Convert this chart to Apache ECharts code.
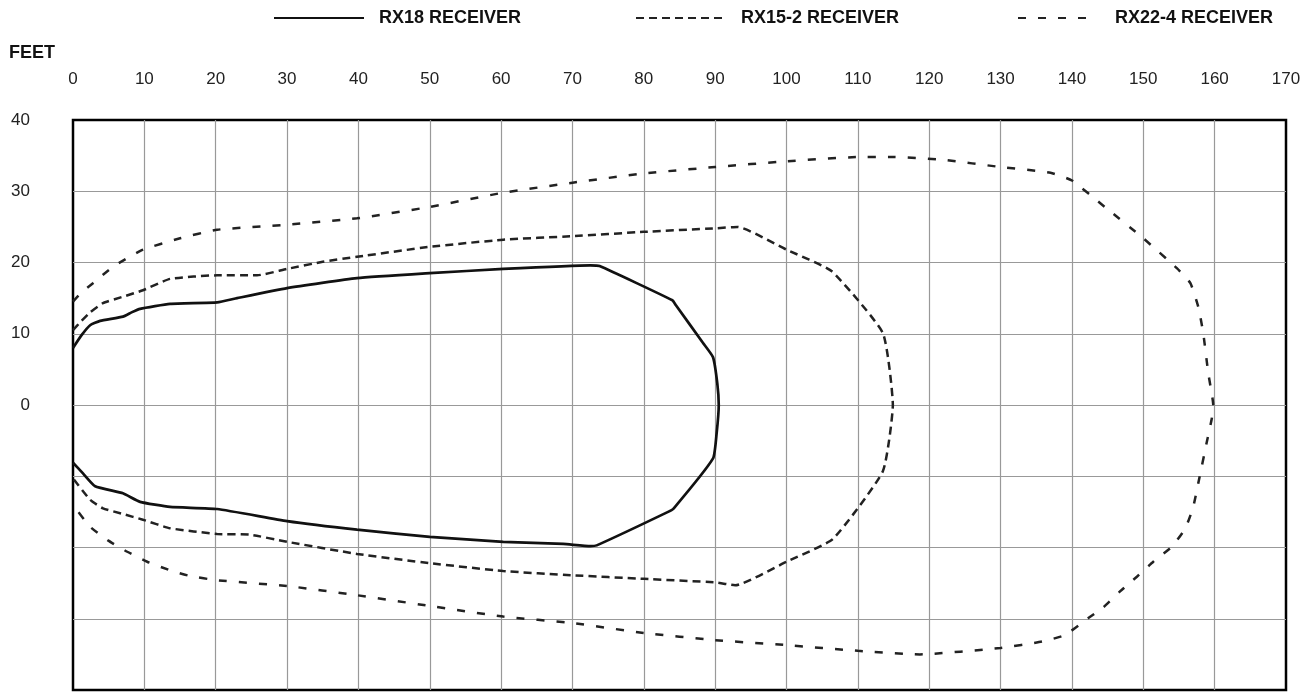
<!DOCTYPE html>
<html>
<head>
<meta charset="utf-8">
<title>Receiver range</title>
<script src="https://cdn.jsdelivr.net/npm/echarts@6/dist/echarts.min.js"></script>
<style>
    html, body { margin: 0; padding: 0; background: #fff; }
    #main { width: 1315px; height: 692px; }
</style>
</head>
<body>
<div id="main"></div>
<script>
// feet, x = distance ahead, y = to the side
var rx18X = [0, 1.2, 2.4, 3.8, 7, 8.2, 9.4, 13.6, 20.2, 23, 30, 39.8, 50, 60.3, 72.5, 73.8, 84, 84.5, 88.3, 89.7, 90.3, 90.5, 90.2, 89.7, 84.2, 83.4, 73.4, 72.5, 68.7, 60.3, 50, 39.8, 30, 20.2, 13.6, 9.4, 7, 3.1, 1.4, 0];
var rx18Y = [8, 9.8, 11.2, 11.8, 12.4, 13, 13.5, 14.2, 14.4, 15, 16.4, 17.8, 18.5, 19.1, 19.6, 19.5, 14.7, 14, 8.7, 6.7, 3, 0, -4, -7.5, -14.5, -15, -19.7, -19.8, -19.5, -19.2, -18.5, -17.5, -16.3, -14.6, -14.3, -13.6, -12.4, -11.4, -9.6, -8.1];

var rx15X = [0, 1, 2.4, 4.2, 7, 9.8, 13.6, 20.2, 25.8, 30, 35, 39.8, 50, 60.3, 70, 80, 90, 93.1, 100, 106.3, 113.5, 114.9, 113.5, 106.5, 100, 92.8, 90, 80, 70, 60.3, 50, 39.8, 30, 24.8, 20.2, 13.6, 9.8, 7, 4.2, 2.4, 0];
var rx15Y = [10.5, 11.6, 13, 14.3, 15.2, 16.1, 17.7, 18.2, 18.2, 19.1, 20.1, 20.8, 22.2, 23.2, 23.7, 24.3, 24.8, 25, 21.8, 18.8, 10.1, 0, -9.3, -18.8, -22, -25.3, -24.9, -24.4, -23.9, -23.3, -22.2, -20.9, -19.2, -18.2, -18.1, -17.3, -16.1, -15.3, -14.5, -13.3, -10.3];

var rx22X = [0, 1.2, 2.8, 5.6, 9.8, 15, 20.2, 30, 39.8, 50, 60.3, 70, 80, 90, 100, 110, 115, 122, 130, 137, 140, 144.6, 150, 154.7, 156.6, 157.7, 158.4, 159.1, 159.8, 159.6, 158.9, 157.7, 157, 155.9, 154, 151.4, 149.1, 146.7, 144.4, 142.3, 139, 135.8, 130, 118.7, 110, 100, 90, 80, 70, 60.3, 50, 39.8, 30, 20.2, 16.4, 13.6, 10.4, 7.6, 4.9, 2.4, 0];
var rx22Y = [14.5, 15.8, 17.1, 19.4, 21.8, 23.4, 24.6, 25.3, 26.2, 27.8, 29.8, 31.2, 32.5, 33.4, 34.2, 34.8, 34.8, 34.4, 33.4, 32.6, 31.5, 27.8, 23.4, 19.2, 17.1, 13.8, 10.1, 4.5, 0, -1.9, -5.2, -11, -14.3, -17.3, -19.9, -22, -24.1, -26.2, -28.4, -29.9, -32.3, -33.2, -34.1, -35, -34.5, -33.7, -33, -32, -30.6, -29.7, -28.2, -26.7, -25.4, -24.6, -24, -23.2, -22, -20.6, -19, -17.1, -14];

var seriesNames = ['RX18 RECEIVER', 'RX15-2 RECEIVER', 'RX22-4 RECEIVER'];
var legendLeft = [273, 635, 1017];
var legendWidth = [90, 90, 80];

function pairs(xs, ys) {
    var out = [];
    for (var i = 0; i < xs.length; i++) out.push([xs[i], ys[i]]);
    return out;
}

var font = '"Liberation Sans", Arial, Helvetica, sans-serif';
var chart = echarts.init(document.getElementById('main'));

// one legend per series so each sits where the original puts it
var legends = [];
for (var i = 0; i < seriesNames.length; i++) {
    legends.push({
        data: [seriesNames[i]],
        left: legendLeft[i],
        top: 9,
        padding: 0,
        itemWidth: legendWidth[i],
        itemHeight: 14,
        selectedMode: false,
        itemStyle: { opacity: 0 },
        textStyle: { fontFamily: font, fontWeight: 'bold', fontSize: 18, color: '#111', padding: [0, 0, 0, i === 2 ? 12 : 10] }
    });
}

var option = {
    animation: false,
    backgroundColor: '#fff',
    title: {
        text: 'FEET',
        left: 9,
        top: 44,
        padding: 0,
        textStyle: { fontFamily: font, fontWeight: 'bold', fontSize: 18, color: '#111' }
    },
    legend: legends,
    grid: {
        left: 73, right: 29, top: 120, bottom: 2,
        show: true,
        borderColor: '#000',
        borderWidth: 2.5
    },
    xAxis: {
        type: 'value',
        position: 'top',
        min: 0, max: 170, interval: 10,
        axisLine: { show: false },
        axisTick: { show: false },
        axisLabel: { margin: 32, fontFamily: font, fontSize: 17, color: '#222' },
        splitLine: { showMinLine: false, showMaxLine: false, lineStyle: { color: '#999', width: 1.2 } }
    },
    yAxis: {
        type: 'value',
        min: -40, max: 40, interval: 10,
        axisLine: { show: false },
        axisTick: { show: false },
        axisLabel: {
            margin: 43, fontFamily: font, fontSize: 17, color: '#222',
            formatter: function (v) { return v >= 0 ? String(v) : ''; }
        },
        splitLine: { showMinLine: false, showMaxLine: false, lineStyle: { color: '#999', width: 1.2 } }
    },
    series: [
        {
            name: seriesNames[0], type: 'line', symbol: 'none', smooth: 0.15,
            lineStyle: { color: '#111', width: 2.7, type: 'solid' },
            itemStyle: { color: '#111' },
            data: pairs(rx18X, rx18Y)
        },
        {
            name: seriesNames[1], type: 'line', symbol: 'none', smooth: 0.15,
            lineStyle: { color: '#222', width: 2.5, type: [8, 5] },
            itemStyle: { color: '#222' },
            data: pairs(rx15X, rx15Y)
        },
        {
            name: seriesNames[2], type: 'line', symbol: 'none', smooth: 0.15,
            lineStyle: { color: '#222', width: 2.5, type: [8, 12] },
            itemStyle: { color: '#222' },
            data: pairs(rx22X, rx22Y)
        }
    ]
};

chart.setOption(option);
</script>
</body>
</html>
